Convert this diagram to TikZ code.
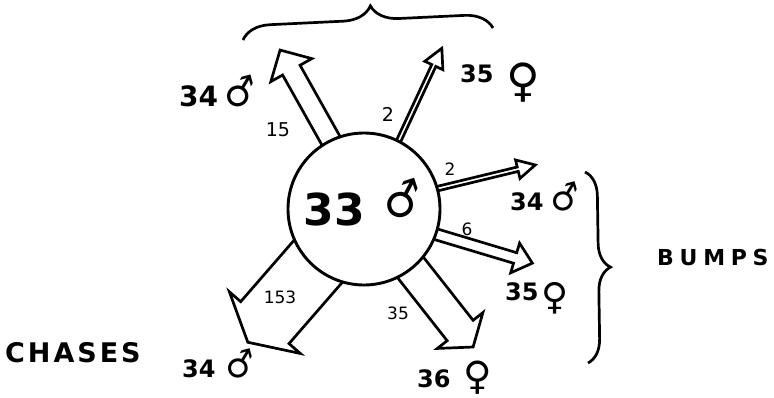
\documentclass[tikz,border=0pt]{standalone}
\usepackage{fontspec}
\usepackage{graphicx}
\setmainfont{DejaVu Sans}
\usetikzlibrary{decorations.pathreplacing}
\newcommand{\blockarrow}[7]{%
  \begin{scope}[shift={(#1,#2)}, rotate=#3]
    \draw[arrowline] (-14,{-#5/2}) -- ({#4-#7},{-#5/2}) -- ({#4-#7},{-#6/2}) -- (#4,0)
      -- ({#4-#7},{#6/2}) -- ({#4-#7},{#5/2}) -- (-14,{#5/2}) -- cycle;
  \end{scope}}
% male sign: size, rotation
\newcommand{\msym}[2]{{\fontsize{#1}{#1}\selectfont\mdseries\rotatebox[origin=c]{#2}{♂}}}
% female sign: size, raise
\newcommand{\fsym}[2]{\raisebox{#2}{\fontsize{#1}{#1}\selectfont\mdseries ♀}}
\begin{document}
\begin{tikzpicture}[x=1pt,y=-1pt,
  arrowline/.style={draw=black, fill=white, line width=2.7pt, line join=miter},
  lbl/.style={font=\bfseries\fontsize{24}{24}\selectfont, inner sep=0, anchor=base west},
  cnt/.style={font=\fontsize{17}{17}\selectfont, inner sep=0},
  bracestyle/.style={line width=2.7pt, decorate}]
\useasboundingbox (0,0) rectangle (774,397);
% arrows
\blockarrow{330}{139}{119.3}{102}{20}{47}{23}
\blockarrow{400}{138}{65}{99}{4.5}{20}{19}
\blockarrow{440}{188}{13.6}{98}{4.5}{19}{18}
\blockarrow{438.5}{235}{-16.7}{98}{11}{31}{18}
\blockarrow{412.5}{270}{-51.8}{98}{33}{58}{21}
\blockarrow{318}{261.5}{-131}{107}{64}{94}{26}
% hub
\node[circle, draw, fill=white, line width=2.9pt, minimum size=152pt, inner sep=0] (hub) at (364,209) {};
\node[font=\bfseries\fontsize{44}{44}\selectfont, inner sep=0] (n33) at (334,209) {33};
\node[inner sep=0, font=\fontsize{46}{46}\selectfont, rotate=18] (hubsym) at (403,200) {♂};
% counts
\node[cnt, font=\fontsize{19}{19}\selectfont] (c15) at (278,130) {15};
\node[cnt, font=\fontsize{19}{19}\selectfont] (c2a) at (388,114) {2};
\node[cnt] (c2b) at (450,169) {2};
\node[cnt] (c6) at (467,229) {6};
\node[cnt] (c153) at (280,297) {153};
\node[cnt] (c35) at (398,313) {35};
% labels
\node[lbl, font=\bfseries\fontsize{28}{28}\selectfont] (l1) at (179,106) {34\hspace{2pt}\msym{38}{15}};
\node[lbl] (l2) at (460,82) {35\hspace{13pt}\fsym{46}{-14pt}};
\node[lbl] (l3) at (510,210) {34\hspace{3pt}\msym{35}{15}};
\node[lbl] (l4) at (505,300) {35\hspace{3pt}\fsym{37}{-9pt}};
\node[lbl] (l5) at (417,387) {36\hspace{13pt}\fsym{39}{-2pt}};
\node[lbl] (l6) at (182,377) {34\hspace{6pt}\msym{35}{15}};
% titles
\node[font=\bfseries\fontsize{27}{27}\selectfont\addfontfeature{LetterSpace=11}, inner sep=0, anchor=west] (chases) at (5,353) {CHASES};
\node[font=\bfseries\fontsize{22}{22}\selectfont\addfontfeature{LetterSpace=26}, inner sep=0, anchor=west] (bumps) at (657,257.5) {BUMPS};
% braces
\draw[bracestyle, decoration={brace, amplitude=28pt, aspect=0.515}] (243,40) -- (493,28);
\draw[bracestyle, decoration={brace, amplitude=24pt}] (585,172) -- (588,363);
\end{tikzpicture}
\end{document}
